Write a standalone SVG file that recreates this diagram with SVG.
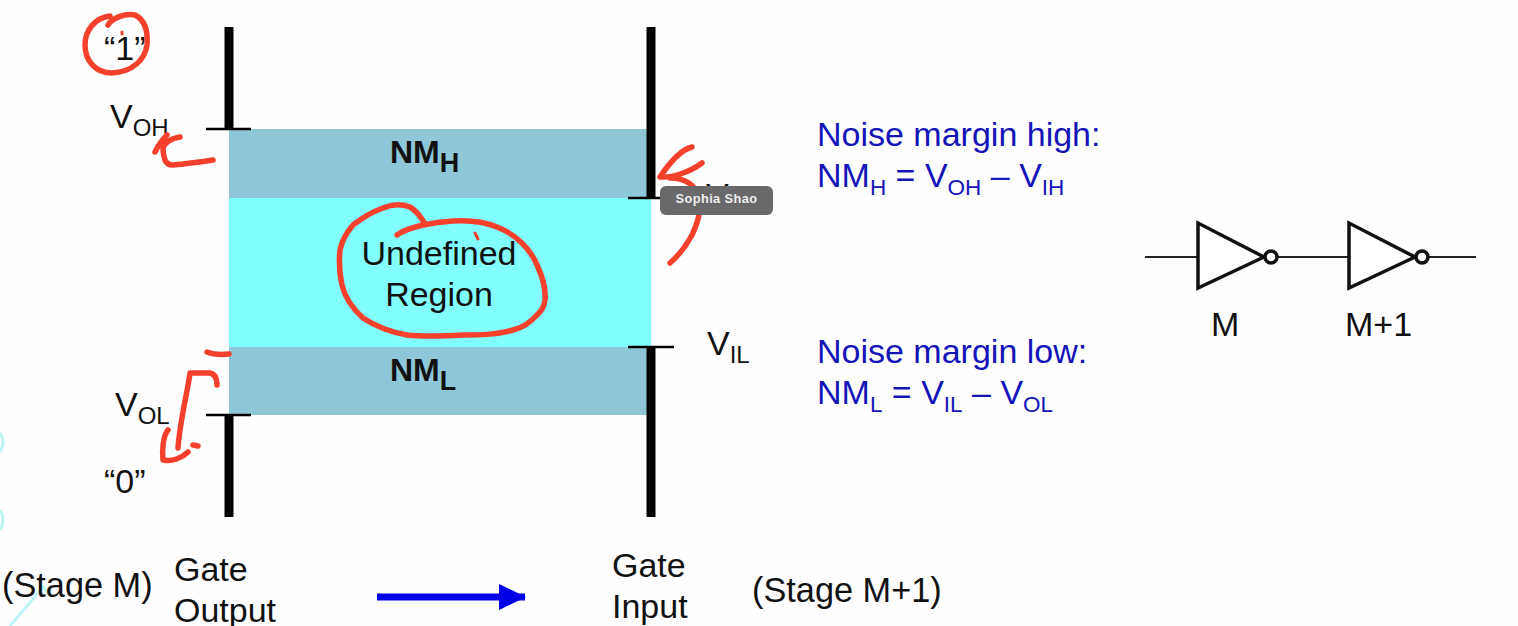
<svg xmlns="http://www.w3.org/2000/svg" width="1518" height="626" viewBox="0 0 1518 626">
<style>
text{font-family:"Liberation Sans",Arial,sans-serif;fill:#111;font-size:34px}
.b{font-weight:bold;font-size:32px}
.stage{font-size:34.300px}
.blue,.blue tspan{fill:#1414b8}
.sub{font-size:24px}
.fsub{font-size:22.500px}
.bsub{font-size:27px;font-weight:bold}
.tip{font-size:12.800px;font-weight:bold;fill:#eee;letter-spacing:.4px}
.rail{stroke:#000;stroke-width:9;fill:none}
.tick{stroke:#000;stroke-width:2.500;fill:none}
.ink{stroke:#f5402c;stroke-width:5.500;fill:none;stroke-linecap:round;stroke-linejoin:round}
.thin{stroke-width:3}
.gate{stroke:#111;stroke-width:3.500;fill:#fff}
.wire{stroke:#222;stroke-width:2;fill:none}
.faint{stroke:#bff5f7;stroke-width:3;fill:none}
</style>
<defs><marker id="ah" markerUnits="userSpaceOnUse" markerWidth="30" markerHeight="28" refX="26" refY="13" orient="auto"><path d="M0 0L27 13L0 26Z" fill="#0000e6"/></marker></defs>
<rect width="1518" height="626" fill="#fefefe"/>
<g id="decor"><path class="faint" d="M0 433Q6 442 0 452M0 510Q6 520 0 530M10 626L43 587L52 597"/></g>
<g id="bands">
<rect x="229" y="129" width="422" height="69" fill="#8ec7d8"/>
<rect x="229" y="198" width="422" height="149" fill="#82ffff"/>
<rect x="229" y="347" width="422" height="68" fill="#8ec7d8"/>
</g>
<g id="connectors">
<path class="rail" d="M229 27V129M229 415V517M651 27V198M651 347V517"/>
<path class="tick" d="M206 129H251M206 415H251M628 198H660M628 347H674"/>
<line x1="377" y1="597" x2="525" y2="597" stroke="#0000e6" stroke-width="7" marker-end="url(#ah)"/>
</g>
<g id="labels">
<text x="104" y="60">“1”</text>
<text x="110" y="128">V<tspan class="sub" dy="8">OH</tspan></text>
<text x="115" y="416">V<tspan class="sub" dy="8">OL</tspan></text>
<text x="104" y="493">“0”</text>
<text x="706" y="207">V</text>
<text x="707" y="355">V<tspan class="sub" dy="8">IL</tspan></text>
<text class="b" x="390" y="163">NM<tspan class="bsub" dy="9">H</tspan></text>
<text class="b" x="390" y="381">NM<tspan class="bsub" dy="9">L</tspan></text>
<text x="439" y="265" text-anchor="middle">Undefined</text>
<text x="439" y="306" text-anchor="middle">Region</text>
<text class="stage" x="2" y="597">(Stage M)</text>
<text x="174" y="581">Gate</text>
<text x="174" y="622">Output</text>
<text x="612" y="577">Gate</text>
<text x="612" y="618">Input</text>
<text class="stage" x="752" y="602">(Stage M+1)</text>
</g>
<g id="formulas">
<text class="blue" x="817" y="146">Noise margin high:</text>
<text class="blue" x="817" y="187">NM<tspan class="fsub" dy="8">H</tspan><tspan dy="-8"> = V</tspan><tspan class="fsub" dy="8">OH</tspan><tspan dy="-8"> – V</tspan><tspan class="fsub" dy="8">IH</tspan></text>
<text class="blue" x="817" y="363">Noise margin low:</text>
<text class="blue" x="817" y="404">NM<tspan class="fsub" dy="8">L</tspan><tspan dy="-8"> = V</tspan><tspan class="fsub" dy="8">IL</tspan><tspan dy="-8"> – V</tspan><tspan class="fsub" dy="8">OL</tspan></text>
</g>
<g id="inverter-m">
<path class="wire" d="M1145 257H1198M1278 257H1348"/>
<path class="gate" d="M1198 223V288L1264 257Z"/>
<circle class="gate" cx="1271" cy="257" r="6"/>
<text x="1211" y="336">M</text>
</g>
<g id="inverter-m1">
<path class="wire" d="M1429 257H1476"/>
<path class="gate" d="M1349 223V288L1415 257Z"/>
<circle class="gate" cx="1422" cy="257" r="6"/>
<text x="1345" y="336">M+1</text>
</g>
<g id="ink">
<path class="ink" d="M108 25C112 18 125 13 135 15C145 20 148 32 147 45C145 60 132 72 112 73C95 73 85 60 85 45C85 30 95 18 110 16"/>
<path class="ink thin" d="M122 32V34"/>
<path class="ink" d="M155 152C158 146 162 140 167 135M180 137C172 138 163 143 163 150C164 158 165 165 172 165C185 164 200 162 213 160"/>
<path class="ink" d="M207 352C212 354 220 355 229 354"/>
<path class="ink" d="M217 385C217 378 215 374 210 373H190C188 390 180 420 178 448M168 430C163 436 162 450 163 460C172 462 182 458 188 452M193 445L198 446"/>
<path class="ink" d="M397 235C410 226 435 222 453 221C470 220 485 222 497 227C515 234 530 248 537 265C543 278 546 290 545 300C544 308 541 311 537 315C530 323 522 328 513 330C495 335 480 335 463 335C445 336 425 337 407 335C390 332 375 326 363 318C352 308 345 298 342 285C339 272 339 260 340 250C342 240 347 232 353 225C362 218 372 212 383 208C392 204 402 204 410 207C417 211 421 217 425 224"/>
<path class="ink thin" d="M475 233L478 239"/>
<path class="ink" d="M692 147C680 150 668 165 660 177C672 178 690 172 702 163M670 178C685 178 695 185 698 195C702 210 698 222 692 235C685 248 678 256 670 263"/>
</g>
<g id="tooltip">
<rect x="660" y="186" width="113" height="29" rx="6" fill="#69686a"/>
<text class="tip" x="716.500" y="203" text-anchor="middle">Sophia Shao</text>
</g>
</svg>
